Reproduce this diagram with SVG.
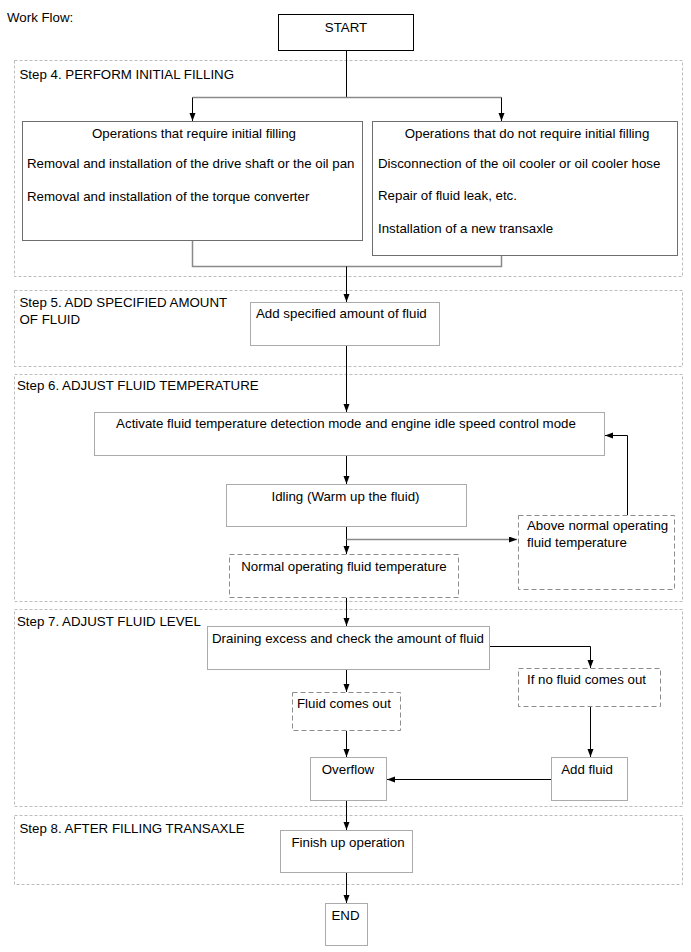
<svg xmlns="http://www.w3.org/2000/svg" width="691" height="952" viewBox="0 0 691 952">
<style>
text{font-family:"Liberation Sans",Arial,sans-serif;font-size:13.3px;fill:#000}
.grp{fill:none;stroke:#bdbdbd;stroke-width:1;stroke-dasharray:3,2}
.box{fill:#fff;stroke:#ababab;stroke-width:1}
.box2{fill:#fff;stroke:#6e6e6e;stroke-width:1}
.dbox{fill:#fff;stroke:#8c8c8c;stroke-width:1;stroke-dasharray:5,3}
.blk{fill:#fff;stroke:#000;stroke-width:1}
.c{fill:none;stroke:#000;stroke-width:1}
.cg{fill:none;stroke:#8a8a8a;stroke-width:1.5}
.m{text-anchor:middle}
</style>
<defs>
<marker id="ah" markerWidth="10" markerHeight="8" refX="8" refY="3" orient="auto" markerUnits="userSpaceOnUse">
<path d="M0,0 L8,3 L0,6 Z" fill="#000"/>
</marker>
</defs>
<rect width="691" height="952" fill="#fff"/>
<text x="7" y="22">Work Flow:</text>

<g id="groups">
<g id="step4"><rect class="grp" x="14.5" y="60.5" width="668" height="216"/><text x="19.5" y="79">Step 4. PERFORM INITIAL FILLING</text></g>
<g id="step5"><rect class="grp" x="14.5" y="290.5" width="668" height="76"/><text x="19.5" y="307">Step 5. ADD SPECIFIED AMOUNT</text><text x="19.5" y="324">OF FLUID</text></g>
<g id="step6"><rect class="grp" x="14.5" y="374.5" width="668" height="227"/><text x="17" y="390">Step 6. ADJUST FLUID TEMPERATURE</text></g>
<g id="step7"><rect class="grp" x="14.5" y="609.5" width="668" height="197"/><text x="17" y="626">Step 7. ADJUST FLUID LEVEL</text></g>
<g id="step8"><rect class="grp" x="14.5" y="815.5" width="668" height="69"/><text x="19.5" y="833">Step 8. AFTER FILLING TRANSAXLE</text></g>
</g>

<g id="connectors">
<path class="c" d="M346.5,51 V97.5"/>
<path class="cg" d="M192.5,97.5 H501.5"/>
<path class="c" d="M192.5,97.5 V121" marker-end="url(#ah)"/>
<path class="c" d="M501.5,97.5 V121" marker-end="url(#ah)"/>
<path class="cg" d="M192.5,241 V266.5 H501.5 V256"/>
<path class="c" d="M346.5,266.5 V302" marker-end="url(#ah)"/>
<path class="c" d="M346.5,346 V412" marker-end="url(#ah)"/>
<path class="c" d="M346.5,456 V484" marker-end="url(#ah)"/>
<path class="c" d="M346.5,527 V554" marker-end="url(#ah)"/>
<path class="cg" d="M346.5,539.5 H517" marker-end="url(#ah)"/>
<path class="c" d="M627.5,515 V435.5 H605" marker-end="url(#ah)"/>
<path class="c" d="M346.5,598 V626" marker-end="url(#ah)"/>
<path class="c" d="M490,646.5 H590.5 V668" marker-end="url(#ah)"/>
<path class="c" d="M346.5,670 V692" marker-end="url(#ah)"/>
<path class="c" d="M346.5,731 V757" marker-end="url(#ah)"/>
<path class="c" d="M590.5,707 V757" marker-end="url(#ah)"/>
<path class="c" d="M551,779.5 H387" marker-end="url(#ah)"/>
<path class="c" d="M346.5,801 V830" marker-end="url(#ah)"/>
<path class="c" d="M346.5,873 V903" marker-end="url(#ah)"/>
</g>

<g id="start"><rect class="blk" x="278.5" y="14.5" width="135" height="36"/><text class="m" x="346" y="31.5">START</text></g>
<g id="req"><rect class="box2" x="22.5" y="121.5" width="340" height="119"/>
<text class="m" x="194" y="138">Operations that require initial filling</text>
<text x="27" y="168">Removal and installation of the drive shaft or the oil pan</text>
<text x="27" y="201">Removal and installation of the torque converter</text></g>
<g id="noreq"><rect class="box2" x="372.5" y="121.5" width="305" height="134"/>
<text class="m" x="527" y="138">Operations that do not require initial filling</text>
<text x="378" y="168">Disconnection of the oil cooler or oil cooler hose</text>
<text x="378" y="200">Repair of fluid leak, etc.</text>
<text x="378" y="233">Installation of a new transaxle</text></g>
<g id="add"><rect class="box" x="250.5" y="302.5" width="189" height="43"/><text x="256" y="318">Add specified amount of fluid</text></g>
<g id="activate"><rect class="box" x="94.5" y="412.5" width="510" height="43"/><text class="m" x="346" y="428">Activate fluid temperature detection mode and engine idle speed control mode</text></g>
<g id="idling"><rect class="box" x="226.5" y="484.5" width="240" height="42"/><text class="m" x="345.5" y="500.5">Idling (Warm up the fluid)</text></g>
<g id="normal"><rect class="dbox" x="229.5" y="554.5" width="229" height="43"/><text class="m" x="344" y="571">Normal operating fluid temperature</text></g>
<g id="above"><rect class="dbox" x="518.5" y="515.5" width="156" height="74"/><text x="527" y="530">Above normal operating</text><text x="527" y="547">fluid temperature</text></g>
<g id="drain"><rect class="box" x="207.5" y="626.5" width="282" height="43"/><text x="212" y="643">Draining excess and check the amount of fluid</text></g>
<g id="nofluid"><rect class="dbox" x="518.5" y="668.5" width="142" height="38"/><text x="527" y="684">If no fluid comes out</text></g>
<g id="comes"><rect class="dbox" x="292.5" y="692.5" width="108" height="38"/><text x="297" y="708">Fluid comes out</text></g>
<g id="overflow"><rect class="box" x="310.5" y="757.5" width="76" height="43"/><text class="m" x="348" y="774">Overflow</text></g>
<g id="addfluid"><rect class="box" x="551.5" y="757.5" width="76" height="43"/><text class="m" x="587" y="774">Add fluid</text></g>
<g id="finish"><rect class="box" x="280.5" y="830.5" width="132" height="42"/><text class="m" x="348" y="846.5">Finish up operation</text></g>
<g id="end"><rect class="box" x="325.5" y="903.5" width="42" height="42"/><text class="m" x="345.5" y="920">END</text></g>
</svg>
